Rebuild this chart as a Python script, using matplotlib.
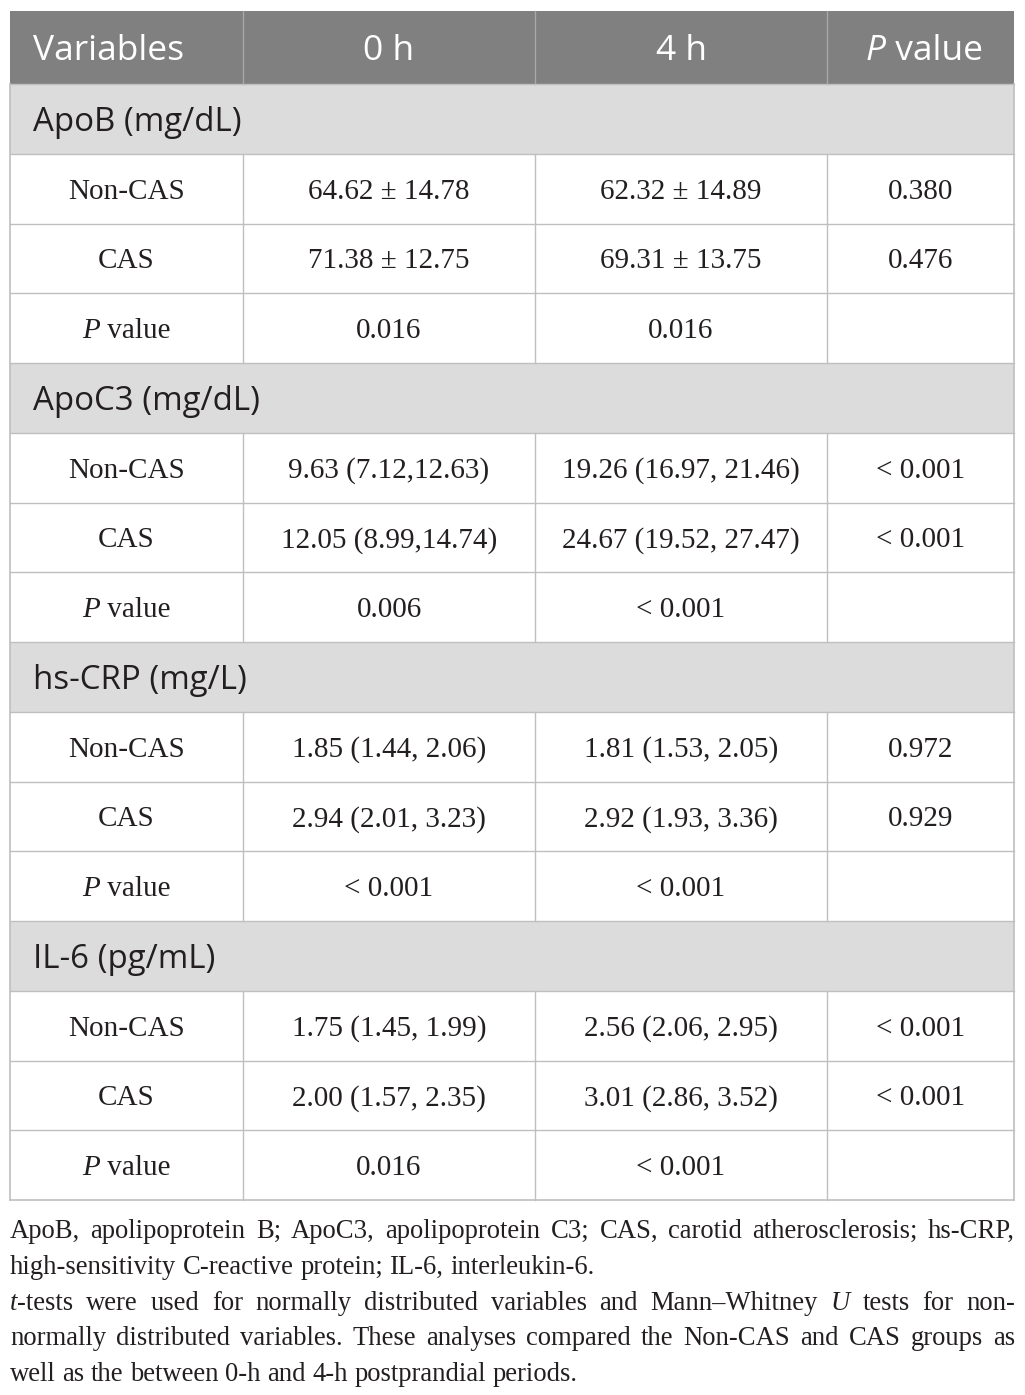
import matplotlib
matplotlib.use("Agg")
import matplotlib.pyplot as plt
from matplotlib.patches import Rectangle

# ---- table content ----
header = ["Variables", "0 h", "4 h", "P value"]
sections = ["ApoB (mg/dL)", "ApoC3 (mg/dL)", "hs-CRP (mg/L)", "IL-6 (pg/mL)"]
row_labels = ["Non-CAS", "CAS", "P value"]
col_0h = [
    ["64.62 ± 14.78", "71.38 ± 12.75", "0.016"],
    ["9.63 (7.12,12.63)", "12.05 (8.99,14.74)", "0.006"],
    ["1.85 (1.44, 2.06)", "2.94 (2.01, 3.23)", "< 0.001"],
    ["1.75 (1.45, 1.99)", "2.00 (1.57, 2.35)", "0.016"],
]
col_4h = [
    ["62.32 ± 14.89", "69.31 ± 13.75", "0.016"],
    ["19.26 (16.97, 21.46)", "24.67 (19.52, 27.47)", "< 0.001"],
    ["1.81 (1.53, 2.05)", "2.92 (1.93, 3.36)", "< 0.001"],
    ["2.56 (2.06, 2.95)", "3.01 (2.86, 3.52)", "< 0.001"],
]
col_p = [
    ["0.380", "0.476", ""],
    ["< 0.001", "< 0.001", ""],
    ["0.972", "0.929", ""],
    ["< 0.001", "< 0.001", ""],
]
foot_lines = [
    "ApoB, apolipoprotein B; ApoC3, apolipoprotein C3; CAS, carotid atherosclerosis; hs-CRP,",
    "high-sensitivity C-reactive protein; IL-6, interleukin-6.",
    "*t*-tests were used for normally distributed variables and Mann–Whitney *U* tests for non-",
    "normally distributed variables. These analyses compared the Non-CAS and CAS groups as",
    "well as the between 0-h and 4-h postprandial periods.",
]
foot_justify = [True, False, True, True, False]

W, H = 1025, 1395
fig = plt.figure(figsize=(W / 100, H / 100), dpi=100)
ax = fig.add_axes([0, 0, 1, 1])
ax.set_xlim(0, W)
ax.set_ylim(H, 0)
ax.axis("off")
renderer = fig.canvas.get_renderer()

SANS = "Open Sans"
SERIF = "Liberation Serif"
INK = "#231f20"

left, right = 10, 1014
cols = [left, 243, 535, 827, right]
top, head_bot = 11, 84
row_h = (1200 - head_bot) / 16


def width(s, **kw):
    t = ax.text(0, 0, s, **kw)
    w = t.get_window_extent(renderer).width
    t.remove()
    return w


def space_w(**kw):
    return width("x x", **kw) - width("xx", **kw)


def split_runs(word):
    # *...* marks italic pieces
    parts = word.split("*")
    return [(p, i % 2 == 1) for i, p in enumerate(parts) if p]


def draw_runs(x, y, runs, ha="center", **kw):
    sw = space_w(**kw)
    ws = []
    for s, it in runs:
        ws.append(sum(width(w, style="italic" if it else "normal", **kw) for w in s.split(" ") if w)
                  + sw * s.count(" "))
    total = sum(ws)
    x0 = x - total / 2 if ha == "center" else x
    for (s, it), w in zip(runs, ws):
        ax.text(x0, y, s, ha="left", va="baseline",
                style="italic" if it else "normal", **kw)
        x0 += w


# header
ax.add_patch(Rectangle((left, top), right - left, head_bot - top, color="#808080", lw=0))
for c in cols[1:-1]:
    ax.plot([c, c], [top, head_bot], color="#a8a8a8", lw=1)
hk = dict(family=SANS, fontsize=25.5, color="white")
hb = (top + head_bot) / 2 + 13
ax.text(33, hb, header[0], ha="left", va="baseline", **hk)
draw_runs((cols[1] + cols[2]) / 2, hb, [(header[1], False)], **hk)
draw_runs((cols[2] + cols[3]) / 2, hb, [(header[2], False)], **hk)
draw_runs((cols[3] + cols[4]) / 2 + 4, hb, [("P", True), (" value", False)], **hk)

bk = dict(family=SERIF, fontsize=21, color=INK)
grid = "#bfbfbf"
y = head_bot
for si, sec in enumerate(sections):
    ax.add_patch(Rectangle((left, y), right - left, row_h, color="#dcdcdc", lw=0))
    ax.text(33, y + row_h / 2 + 12, sec, ha="left", va="baseline",
            family=SANS, fontsize=23.8, color=INK)
    ax.plot([left, right], [y, y], color=grid, lw=1)
    y += row_h
    for ri, lab in enumerate(row_labels):
        ax.plot([left, right], [y, y], color=grid, lw=1)
        for c in cols[1:-1]:
            ax.plot([c, c], [y, y + row_h], color=grid, lw=1)
        base = y + row_h / 2 + 10
        lab_runs = [("P", True), (" value", False)] if lab == "P value" else [(lab, False)]
        draw_runs((cols[0] + cols[1]) / 2, base, lab_runs, **bk)
        vals = [col_0h[si][ri], col_4h[si][ri], col_p[si][ri]]
        for ci, v in enumerate(vals):
            if v:
                draw_runs((cols[ci + 1] + cols[ci + 2]) / 2, base, [(v, False)], **bk)
        y += row_h
ax.plot([left, right], [y, y], color=grid, lw=1.2)
ax.plot([left, left], [head_bot, y], color=grid, lw=1.2)
ax.plot([right, right], [head_bot, y], color=grid, lw=1.2)

# footnote
fk = dict(family=SERIF, fontsize=19.2, color=INK)
sw = space_w(**fk)
fy = 1238
for line, just in zip(foot_lines, foot_justify):
    words = [split_runs(w) for w in line.split(" ")]
    wws = [sum(width(s, style="italic" if it else "normal", **fk) for s, it in wr) for wr in words]
    gap = (right + 1 - left - sum(wws)) / (len(words) - 1) if just else sw
    x = left
    for wr, ww in zip(words, wws):
        xx = x
        for s, it in wr:
            ax.text(xx, fy, s, ha="left", va="baseline",
                    style="italic" if it else "normal", **fk)
            xx += width(s, style="italic" if it else "normal", **fk)
        x += ww + gap
    fy += 35.8

fig.savefig("out.png", dpi=100)
